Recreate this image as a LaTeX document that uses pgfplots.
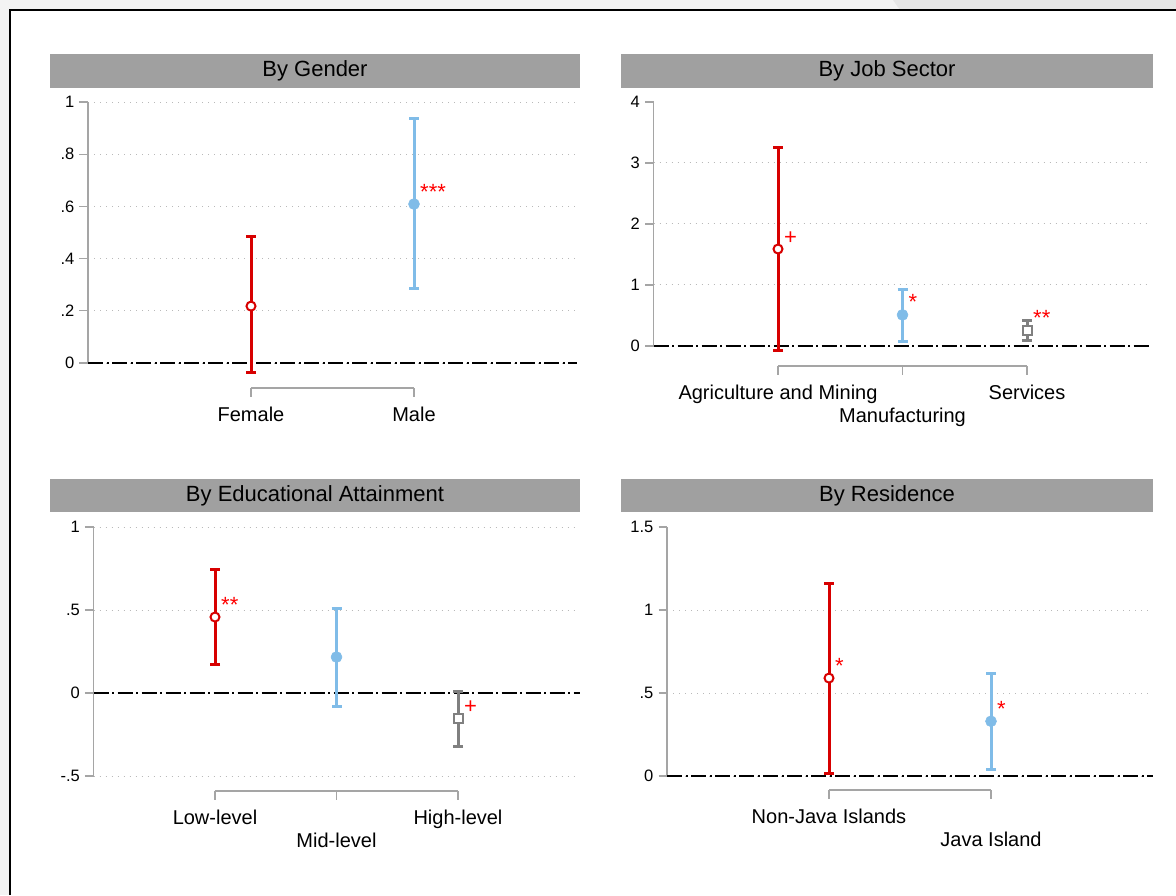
\documentclass[border=0pt]{standalone}
\usepackage{fontspec}
\setmainfont{Liberation Sans}
\usepackage{pgfplots}
\pgfplotsset{compat=1.18}
\definecolor{sred}{RGB}{215,0,0}
\definecolor{sstar}{RGB}{255,0,0}
\definecolor{sblue}{RGB}{128,188,232}
\definecolor{sgray}{RGB}{128,128,128}
\definecolor{titlebar}{RGB}{160,160,160}
\definecolor{axgray}{RGB}{165,165,165}
\definecolor{gridc}{RGB}{185,185,185}
\definecolor{bgc}{RGB}{243,243,243}
\definecolor{bgc2}{RGB}{230,230,230}

\tikzset{
  zeroline/.style={black, line width=2pt, dash pattern=on 15pt off 3.5pt on 2pt off 3.5pt},
  axl/.style={axgray, line width=1.3pt},
}
\pgfplotsset{
  panel/.style={
    anchor=south west,
    axis lines*=left,
    axis line style={draw=none},
    tick pos=left,
    tick align=outside,
    major tick length=8.5pt,
    tick style={axgray, line width=1.3pt},
    ymajorgrids,
    grid style={gridc, line width=1pt, dash pattern=on 1pt off 5pt},
    clip=false,
    xticklabel style={font=\fontsize{20}{23}\selectfont, inner sep=0pt, anchor=north, align=center, yshift=-9pt},
    yticklabel style={font=\fontsize{16.5}{19}\selectfont, inner sep=0pt, anchor=east, xshift=-5pt},
    extra tick style={grid=none},
  },
  ebar/.style={only marks, error bars/y dir=both, error bars/y explicit,
    error bars/error bar style={line width=3pt, #1},
    error bars/error mark options={rotate=90, line width=3pt, mark size=5pt, #1}},
  cRed/.style={ebar=sred, mark=*, mark size=4.5pt, mark options={draw=sred, fill=white, line width=2pt}},
  cBlue/.style={ebar=sblue, mark=*, mark size=5.5pt, mark options={draw=sblue, fill=sblue, line width=0.5pt}},
  cGray/.style={ebar=sgray, mark=square*, mark size=4.5pt, mark options={draw=sgray, fill=white, line width=2pt}},
  stars/.style={draw=none, nodes near coords, point meta=explicit symbolic,
    nodes near coords style={anchor=base west, inner sep=0pt, xshift=6pt, yshift=5pt, text=sstar, font=\fontsize{22}{24}\selectfont}},
  table/ci/.style={row sep=\\, x=x, y=y, y error plus expr=\thisrow{hi}-\thisrow{y}, y error minus expr=\thisrow{y}-\thisrow{lo}},
}

\begin{document}
\begin{tikzpicture}
\useasboundingbox (0pt,0pt) rectangle (1176pt,-895pt);
\fill[bgc] (0pt,0pt) rectangle (1176pt,-895pt);
\fill[bgc2] (893pt,0pt) -- (1176pt,0pt) -- (1176pt,-10pt) -- (900pt,-10pt) -- cycle;
\fill[white] (10pt,-10pt) rectangle (1176pt,-895pt);
\draw[black, line width=2pt] (10pt,-895pt) -- (10pt,-10pt) -- (1176pt,-10pt);

% title bars
\fill[titlebar] (50pt,-54pt) rectangle (580pt,-88pt);
\node[font=\fontsize{22}{26}\selectfont] at (315pt,-71pt) {By Gender};
\fill[titlebar] (621pt,-54pt) rectangle (1153pt,-88pt);
\node[font=\fontsize{22}{26}\selectfont] at (887pt,-71pt) {By Job Sector};
\fill[titlebar] (50pt,-479pt) rectangle (580pt,-512pt);
\node[font=\fontsize{22}{26}\selectfont] at (315pt,-495.5pt) {By Educational Attainment};
\fill[titlebar] (621pt,-479pt) rectangle (1153pt,-512pt);
\node[font=\fontsize{22}{26}\selectfont] at (887pt,-495.5pt) {By Residence};

% ---------------- By Gender
\begin{axis}[panel, at={(88pt,-388pt)}, x=163pt, y=261pt,
  xmin=0, xmax=3, ymin=-0.0958, ymax=1.03,
  xtick={1,2}, xticklabels={\strut Female, \strut Male},
  ytick={0,0.2,0.4,0.6,0.8,1}, yticklabels={0,.2,.4,.6,.8,1}]
\draw[axl] (axis cs:0,0) -- (axis cs:0,1);
\draw[axl] (axis cs:1,-0.0958) -- (axis cs:2,-0.0958);
\draw[zeroline] (axis cs:0,0) -- (axis cs:3,0);
\addplot[cRed] table[ci] {x y lo hi\\ 1 0.218 -0.038 0.483\\};
\addplot[cBlue] table[ci] {x y lo hi\\ 2 0.609 0.284 0.935\\};
\addplot[stars] table[row sep=\\, meta=lab] {x y lab\\ 2 0.609 ***\\};
\end{axis}

% ---------------- By Job Sector
\begin{axis}[panel, at={(653.5pt,-366pt)}, x=124.5pt, y=61pt,
  xmin=0, xmax=4, ymin=-0.328, ymax=4.1,
  xtick={1,2,3}, xticklabels={\strut Agriculture and Mining, {\strut\\\strut Manufacturing}, \strut Services},
  ytick={0,1,2,3}, yticklabels={0,1,2,3},
  extra y ticks={4}, extra y tick labels={4}]
\draw[axl] (axis cs:0,0) -- (axis cs:0,4);
\draw[axl] (axis cs:1,-0.328) -- (axis cs:3,-0.328);
\draw[zeroline] (axis cs:0,0) -- (axis cs:4,0);
\addplot[cRed] table[ci] {x y lo hi\\ 1 1.59 -0.07 3.26\\};
\addplot[cBlue] table[ci] {x y lo hi\\ 2 0.51 0.08 0.93\\};
\addplot[cGray] table[ci] {x y lo hi\\ 3 0.25 0.087 0.41\\};
\addplot[stars] table[row sep=\\, meta=lab] {x y lab\\ 1 1.59 +\\ 2 0.51 *\\ 3 0.25 **\\};
\end{axis}

% ---------------- By Educational Attainment
\begin{axis}[panel, at={(93.5pt,-791pt)}, x=121.5pt, y=166pt,
  xmin=0, xmax=4, ymin=-0.590, ymax=1.04,
  xtick={1,2,3}, xticklabels={\strut Low-level, {\strut\\\strut Mid-level}, \strut High-level},
  ytick={-0.5,0,0.5,1}, yticklabels={-.5,0,.5,1}]
\draw[axl] (axis cs:0,-0.5) -- (axis cs:0,1);
\draw[axl] (axis cs:1,-0.590) -- (axis cs:3,-0.590);
\draw[zeroline] (axis cs:0,0) -- (axis cs:4,0);
\addplot[cRed] table[ci] {x y lo hi\\ 1 0.458 0.175 0.747\\};
\addplot[cBlue] table[ci] {x y lo hi\\ 2 0.217 -0.078 0.512\\};
\addplot[cGray] table[ci] {x y lo hi\\ 3 -0.155 -0.32 0.01\\};
\addplot[stars] table[row sep=\\, meta=lab] {x y lab\\ 1 0.458 **\\ 3 -0.155 +\\};
\end{axis}

% ---------------- By Residence
\begin{axis}[panel, at={(667pt,-790pt)}, x=162pt, y=166pt,
  xmin=0, xmax=3, ymin=-0.0843, ymax=1.54,
  xtick={1,2}, xticklabels={\strut Non-Java Islands, {\strut\\\strut Java Island}},
  ytick={0,0.5,1}, yticklabels={0,.5,1},
  extra y ticks={1.5}, extra y tick labels={1.5}]
\draw[axl] (axis cs:0,0) -- (axis cs:0,1.5);
\draw[axl] (axis cs:1,-0.0843) -- (axis cs:2,-0.0843);
\draw[zeroline] (axis cs:0,0) -- (axis cs:3,0);
\addplot[cRed] table[ci] {x y lo hi\\ 1 0.59 0.018 1.16\\};
\addplot[cBlue] table[ci] {x y lo hi\\ 2 0.33 0.042 0.62\\};
\addplot[stars] table[row sep=\\, meta=lab] {x y lab\\ 1 0.59 *\\ 2 0.33 *\\};
\end{axis}
\end{tikzpicture}
\end{document}
